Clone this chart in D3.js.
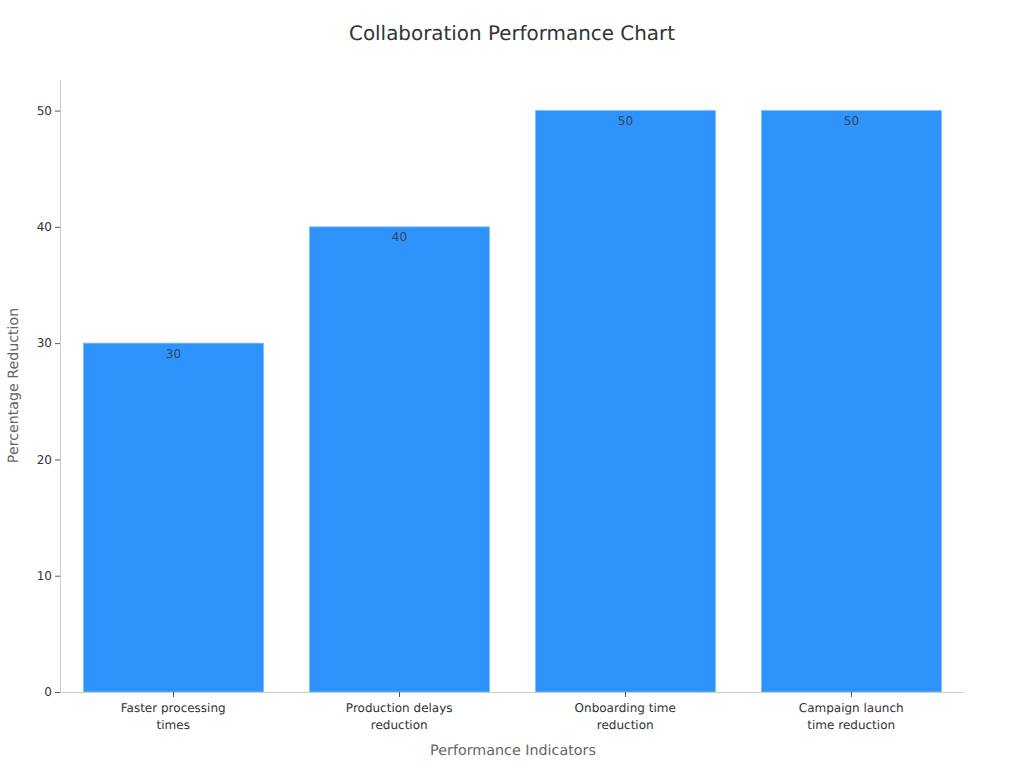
<!DOCTYPE html>
<html><head><meta charset="utf-8">
<script src="https://cdn.jsdelivr.net/npm/d3@7"></script>
<style>html,body{margin:0;padding:0;background:#fff}svg{display:block;font-family:"DejaVu Sans",sans-serif;text-rendering:geometricPrecision}</style>
</head><body><div id="c"></div>
<script>
const categories = [["Faster processing","times"],["Production delays","reduction"],["Onboarding time","reduction"],["Campaign launch","time reduction"]];
const values = [30,40,50,50];
const yTicks = [0,10,20,30,40,50];
const titleText = "Collaboration Performance Chart";
const xTitle = "Performance Indicators";
const yTitle = "Percentage Reduction";

const svg = d3.select("#c").append("svg").attr("width",1024).attr("height",768);
const x = d3.scaleBand().domain(d3.range(categories.length)).range([60.5,964.5]).paddingInner(0.2035).paddingOuter(0.1018);
const y = d3.scaleLinear().domain([0,52.5]).range([692,81.5]);

svg.append("text").attr("x",512).attr("y",39.5).attr("text-anchor","middle").attr("font-size",19.9).attr("fill","#333").text(titleText);

svg.selectAll("rect.bar").data(values).join("rect").attr("class","bar")
  .attr("x",(d,i)=>x(i)).attr("width",x.bandwidth())
  .attr("y",d=>y(d)).attr("height",d=>y(0)-y(d))
  .attr("fill","#2e93fa").attr("stroke","#7dbcfb").attr("stroke-width",0.8);

const ya = svg.append("g").attr("transform","translate(60,0)").call(d3.axisLeft(y).tickValues(yTicks).tickSize(5).tickPadding(3));
ya.select(".domain").attr("stroke","#ccc").attr("d","M0.5,80V692.5");
ya.selectAll(".tick line").attr("stroke","#555");
ya.selectAll(".tick text").attr("font-size",12).attr("fill","#333").attr("font-family","DejaVu Sans");

const xa = svg.append("g").attr("transform","translate(0,692)").call(d3.axisBottom(x).tickSize(5).tickFormat(""));
xa.select(".domain").attr("stroke","#ccc").attr("d","M60,0.5H964");
xa.selectAll(".tick line").attr("stroke","#555");
xa.selectAll(".tick").each(function(d,i){
  const t = d3.select(this).select("text").attr("fill","#333").attr("font-size",12).attr("font-family","DejaVu Sans").attr("y",0).attr("dy",null);
  categories[i].forEach((line,k)=>t.append("tspan").attr("x",-0.3).attr("y",20+k*16.5).text(line));
});

svg.selectAll("text.val").data(values).join("text").attr("class","val")
  .attr("x",(d,i)=>x(i)+x.bandwidth()/2).attr("y",d=>y(d)+14.5)
  .attr("text-anchor","middle").attr("font-size",12).attr("fill","#333").attr("fill-opacity",0.85).text(d=>d);

svg.append("text").attr("x",513).attr("y",755).attr("text-anchor","middle").attr("font-size",14.3).attr("fill","#666").text(xTitle);
svg.append("text").attr("transform","translate(17.5,385.5) rotate(-90)").attr("text-anchor","middle").attr("font-size",14.2).attr("fill","#666").text(yTitle);
</script></body></html>
